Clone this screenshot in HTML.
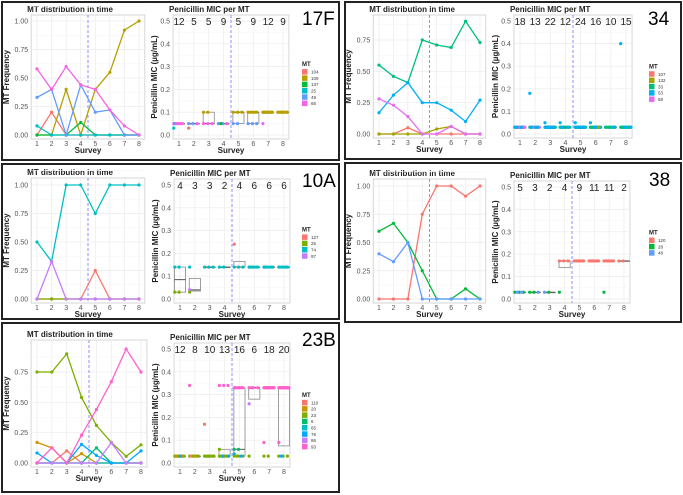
<!DOCTYPE html>
<html><head><meta charset="utf-8">
<style>
html,body{margin:0;padding:0;background:#fff;}
svg{display:block;font-family:"Liberation Sans",sans-serif;}
</style></head>
<body>
<svg id="fig" width="683" height="495" viewBox="0 0 683 495" xmlns="http://www.w3.org/2000/svg"></svg>
<script>
// ===== Data =====
const surveys = [1,2,3,4,5,6,7,8];
// 17F
const mt17F = ["104","109","137","25","49","66"];
const col17F = ["#F8766D","#B79F00","#00BA38","#00BFC4","#619CFF","#F564E3"];
const freq17F = [
  [0,0.2,0,0,0,0,0,0],
  [0,0,0.4,0,0.4,0.55,0.92,1.0],
  [0,0,0,0.11,0,0,0,0],
  [0.08,0,0,0,0,0,0,0],
  [0.33,0.4,0,0.44,0.2,0.22,0,0],
  [0.58,0.4,0.6,0.44,0.4,0.22,0.08,0]
];
const counts17F = [12,5,5,9,5,9,12,9];
// [survey, mic, mtIndex, n]
const pts17F = [[1,0.05,5,5],[1,0.05,4,1],[1,0.03,3,1],[2,0.05,4,2],[2,0.05,5,1],[2,0.03,0,1],
  [3,0.1,1,2],[3,0.05,5,3],[4,0.05,4,2],[4,0.05,5,1],[4,0.05,2,1],[5,0.1,1,3],[5,0.05,4,2],
  [6,0.1,1,5],[6,0.05,4,3],[7,0.1,1,11],[7,0.05,5,1],[8,0.1,1,9]];
// [survey, q1, median, q3]
const box17F = [[1,0.05,0.05,0.05],[2,0.05,0.05,0.05],[3,0.05,0.05,0.1],[4,0.05,0.05,0.05],[5,0.05,0.1,0.1],[6,0.05,0.1,0.1],[7,0.1,0.1,0.1],[8,0.1,0.1,0.1]];
// 34
const mt34 = ["107","132","33","53","58"];
const col34 = ["#F8766D","#A3A500","#00BF7D","#00B0F6","#E76BF3"];
const freq34 = [
  [0,0,0.05,0,0,0,0,0],
  [0,0,0,0,0.04,0.06,0,0],
  [0.55,0.46,0.41,0.75,0.71,0.69,0.9,0.73],
  [0.17,0.31,0.41,0.25,0.25,0.19,0.1,0.27],
  [0.28,0.23,0.14,0,0,0.06,0,0]
];
const counts34 = [18,13,22,12,24,16,10,15];
const pts34 = [[1,0.03,2,10],[1,0.03,4,5],[1,0.03,3,3],[2,0.03,2,6],[2,0.03,4,3],[2,0.18,3,1],[2,0.03,3,3],
  [3,0.03,2,13],[3,0.03,3,8],[3,0.05,3,1],[4,0.03,2,9],[4,0.03,3,2],[4,0.05,3,1],[5,0.03,2,17],[5,0.03,3,5],[5,0.05,3,1],
  [6,0.03,2,11],[6,0.03,3,3],[6,0.05,3,1],[6,0.03,1,1],[7,0.03,2,9],[7,0.03,3,1],[8,0.03,2,11],[8,0.03,3,3],[8,0.4,3,1]];
const box34 = [[1,0.03,0.03,0.03],[2,0.03,0.03,0.03],[3,0.03,0.03,0.03],[4,0.03,0.03,0.03],[5,0.03,0.03,0.03],[6,0.03,0.03,0.03],[7,0.03,0.03,0.03],[8,0.03,0.03,0.03]];
// 10A
const mt10A = ["127","25","74","97"];
const col10A = ["#F8766D","#7CAE00","#00BFC4","#C77CFF"];
const freq10A = [
  [0,0,0,0,0.25,0,0,0],
  [0,0,0,0,0,0,0,0],
  [0.5,0.33,1,1,0.75,1,1,1],
  [0,0.33,0,0,0,0,0,0]
];
const counts10A = [4,3,3,2,4,6,6,6];
const pts10A = [[1,0.14,2,2],[1,0.03,1,2],[2,0.14,2,1],[2,0.04,3,1],[2,0.03,1,1],[3,0.14,2,3],[4,0.14,2,2],
  [5,0.14,2,3],[5,0.24,0,1],[6,0.14,2,6],[7,0.14,2,6],[8,0.14,2,6]];
const box10A = [[1,0.03,0.085,0.14],[2,0.035,0.04,0.09],[3,0.14,0.14,0.14],[4,0.14,0.14,0.14],[5,0.14,0.14,0.165],[6,0.14,0.14,0.14],[7,0.14,0.14,0.14],[8,0.14,0.14,0.14]];
// 38
const mt38 = ["120","28","48"];
const col38 = ["#F8766D","#00BA38","#619CFF"];
const freq38 = [
  [0,0,0,0.75,1,1,0.91,1],
  [0.6,0.67,0.5,0.25,0,0,0.09,0],
  [0.4,0.33,0.5,0,0,0,0,0]
];
const counts38 = [5,3,2,4,9,11,11,2];
const pts38 = [[1,0.03,1,3],[1,0.03,2,2],[2,0.03,1,2],[2,0.03,2,1],[3,0.03,2,1],[3,0.03,1,1],[4,0.17,0,3],[4,0.03,1,1],
  [5,0.17,0,9],[6,0.17,0,11],[7,0.17,0,10],[7,0.03,1,1],[8,0.17,0,2]];
const box38 = [[1,0.03,0.03,0.03],[2,0.03,0.03,0.03],[3,0.03,0.03,0.03],[4,0.14,0.17,0.17],[5,0.17,0.17,0.17],[6,0.17,0.17,0.17],[7,0.17,0.17,0.17],[8,0.17,0.17,0.17]];
// 23B
const mt23B = ["110","20","23","6","65","76","86","93"];
const col23B = ["#F8766D","#CD9600","#7CAE00","#00BE67","#00BFC4","#00A9FF","#C77CFF","#FF61CC"];
const freq23B = [
  [0,0,0.1,0,0,0,0,0],
  [0.17,0.125,0,0.077,0,0,0,0],
  [0.75,0.75,0.9,0.54,0.31,0.17,0.055,0.15],
  [0,0,0,0,0.125,0,0,0],
  [0,0,0,0,0,0,0,0],
  [0.083,0,0,0.154,0.0625,0,0,0.1],
  [0,0,0,0,0,0.167,0,0],
  [0,0.125,0,0.23,0.44,0.67,0.94,0.75]
];
const counts23B = [12,8,10,13,16,6,18,20];
const pts23B = [[1,0.03,2,9],[1,0.03,1,2],[1,0.03,5,1],[2,0.03,2,5],[2,0.03,0,1],[2,0.34,7,1],[2,0.03,1,1],
  [3,0.03,2,9],[3,0.17,0,1],[4,0.03,2,7],[4,0.34,7,3],[4,0.06,2,1],[4,0.03,5,2],
  [5,0.33,7,7],[5,0.03,2,4],[5,0.06,3,2],[5,0.04,4,1],[5,0.03,5,1],[6,0.33,7,4],[6,0.26,6,1],[6,0.03,2,1],
  [7,0.33,7,14],[7,0.09,7,1],[7,0.03,2,2],[8,0.33,7,15],[8,0.09,7,1],[8,0.03,2,3],[8,0.03,5,1]];
const box23B = [[1,0.03,0.03,0.03],[2,0.03,0.03,0.03],[3,0.03,0.03,0.03],[4,0.03,0.03,0.06],[5,0.03,0.06,0.33],[6,0.28,0.33,0.33],[7,0.33,0.33,0.33],[8,0.075,0.33,0.33]];

// ===== Rendering =====
const NS="http://www.w3.org/2000/svg";
const svg=document.getElementById('fig');
function mk(tag,attrs,parent){const e=document.createElementNS(NS,tag);for(const k in attrs)e.setAttribute(k,attrs[k]);(parent||svg).appendChild(e);return e;}
function txt(s,attrs,parent){const e=mk('text',attrs,parent);e.textContent=s;return e;}

function drawPanel(c){
  const g=mk('g',{});
  
  
  const b=mk('rect',{x:c.box[0],y:c.box[1],width:c.box[2]-c.box[0],height:c.box[3]-c.box[1],fill:'#fff',stroke:'#222','stroke-width':2},g);
  
  
  const lab=txt(c.id,{x:c.labelX,y:c.box[1]+23,'font-size':19,fill:'#000'},g);
  
  

  // ---- Left: frequency ----
  const L=c.left;
  const lx=v=>L.x1+(v-1)*(L.x8-L.x1)/7;
  const ly=v=>L.y0+(L.yref-L.y0)*v/L.vref;
  const lg=mk('g',{},g);
  
  
  const lTop=L.top, lBot=ly(0)+4, lL=lx(0.6), lR=lx(8.4);
  mk('rect',{x:lL,y:lTop,width:lR-lL,height:lBot-lTop,fill:'#fff',stroke:'#ccc','stroke-width':0.8},lg);
  const lt=txt('MT distribution in time',{x:lL-4,y:L.top-3,'font-size':8,'font-weight':'bold',fill:'#222'},lg);
  
  
  L.ticks.forEach(t=>{
    mk('line',{x1:lL,x2:lR,y1:ly(t),y2:ly(t),stroke:'#ebebeb','stroke-width':0.7},lg);
    mk('line',{x1:lL,x2:lR,y1:ly(t+0.125),y2:ly(t+0.125),stroke:'#f5f5f5','stroke-width':0.5},lg);
    const tl=txt(t.toFixed(2),{x:lL-3,y:ly(t)+2.5,'font-size':7,'text-anchor':'end',fill:'#555'},lg);
    
    
  });
  surveys.forEach(s=>{
    mk('line',{x1:lx(s),x2:lx(s),y1:lTop,y2:lBot,stroke:'#ebebeb','stroke-width':0.7},lg);
    const tl=txt(String(s),{x:lx(s),y:lBot+7,'font-size':7,'text-anchor':'middle',fill:'#555'},lg);
    
    
  });
  mk('line',{x1:lx(4.5),x2:lx(4.5),y1:lTop,y2:lBot,stroke:'#8f8fff','stroke-width':1,'stroke-dasharray':'3,2'},lg);
  c.freq.forEach((series,i)=>{
    const pts=series.map((v,j)=>lx(surveys[j])+','+ly(v)).join(' ');
    const pl=mk('polyline',{points:pts,fill:'none',stroke:c.cols[i],'stroke-width':1.3},lg);
    
    
    series.forEach((v,j)=>{
      const p=mk('circle',{cx:lx(surveys[j]),cy:ly(v),r:1.6,fill:c.cols[i]},lg);
      
      
    });
  });
  const xt=txt('Survey',{x:(lL+lR)/2,y:lBot+14,'font-size':8,'font-weight':'bold','text-anchor':'middle',fill:'#222'},lg);
  
  
  const yt=txt('MT Frequency',{x:0,y:0,'font-size':8,'font-weight':'bold','text-anchor':'middle',fill:'#222',transform:`translate(${lL-22},${(lTop+lBot)/2}) rotate(-90)`},lg);
  
  

  // ---- Right: MIC ----
  const R=c.right;
  const rx=v=>R.x1+(v-1)*(R.x8-R.x1)/7;
  const ry=v=>R.y0+(R.y5-R.y0)*v/0.5;
  const rg=mk('g',{},g);
  
  
  const rTop=ry(0.5)-6,rBot=ry(0)+4,rL=rx(0.6),rR=rx(8.4);
  mk('rect',{x:rL,y:rTop,width:rR-rL,height:rBot-rTop,fill:'#fff',stroke:'#ccc','stroke-width':0.8},rg);
  const rt=txt('Penicillin MIC per MT',{x:rL-4,y:rTop-3,'font-size':8,'font-weight':'bold',fill:'#222'},rg);
  
  
  [0,0.1,0.2,0.3,0.4,0.5].forEach(t=>{
    mk('line',{x1:rL,x2:rR,y1:ry(t),y2:ry(t),stroke:'#ebebeb','stroke-width':0.7},rg);
    if(t<0.5)mk('line',{x1:rL,x2:rR,y1:ry(t+0.05),y2:ry(t+0.05),stroke:'#f5f5f5','stroke-width':0.5},rg);
    const tl=txt(t.toFixed(1),{x:rL-3,y:ry(t)+2.5,'font-size':7,'text-anchor':'end',fill:'#555'},rg);
    
    
  });
  surveys.forEach((s,j)=>{
    mk('line',{x1:rx(s),x2:rx(s),y1:rTop,y2:rBot,stroke:'#ebebeb','stroke-width':0.7},rg);
    const tl=txt(String(s),{x:rx(s),y:rBot+7,'font-size':7,'text-anchor':'middle',fill:'#555'},rg);
    
    
    const cl=txt(String(c.counts[j]),{x:rx(s),y:ry(0.5)+4,'font-size':10,'text-anchor':'middle',fill:'#222'},rg);
    
    
  });
  c.boxes.forEach(bx=>{
    const w=(R.x8-R.x1)/7*0.75;
    const x0=rx(bx[0])-w/2;
    const r=mk('rect',{x:x0,y:ry(bx[3]),width:w,height:Math.max(0.5,ry(bx[1])-ry(bx[3])),fill:'none',stroke:'#888','stroke-width':0.8},rg);
    
    
    mk('line',{x1:x0,x2:x0+w,y1:ry(bx[2]),y2:ry(bx[2]),stroke:'#555','stroke-width':1},rg);
  });
  mk('line',{x1:rx(4.5),x2:rx(4.5),y1:rTop,y2:rBot,stroke:'#8f8fff','stroke-width':1,'stroke-dasharray':'3,2'},rg);
  const used={};
  c.pts.forEach(p=>{
    const key=p[0]+'_'+p[1];
    for(let k=0;k<p[3];k++){
      const idx=used[key]||0; used[key]=idx+1;
      const off=((idx*0.29)%0.7)-0.35;
      const d=mk('circle',{cx:rx(p[0]+off),cy:ry(p[1]),r:1.6,fill:c.cols[p[2]]},rg);
      
      
    }
  });
  const xt2=txt('Survey',{x:(rL+rR)/2,y:rBot+14,'font-size':8,'font-weight':'bold','text-anchor':'middle',fill:'#222'},rg);
  
  
  const yt2=txt('Penicillin MIC (\u00b5g/mL)',{x:0,y:0,'font-size':8,'font-weight':'bold','text-anchor':'middle',fill:'#222',transform:`translate(${rL-16},${(rTop+rBot)/2}) rotate(-90)`},rg);
  
  

  // ---- Legend ----
  const leg=mk('g',{},g);
  
  
  const ly0=c.legY-((c.mts.length*6.3)/2);
  txt('MT',{x:c.legX,y:ly0,'font-size':6,'font-weight':'bold',fill:'#222'},leg);
  c.mts.forEach((m,i)=>{
    const e=mk('g',{},leg);
    
    
    mk('rect',{x:c.legX,y:ly0+3+i*6.3,width:5.5,height:5.5,fill:c.cols[i]},e);
    txt(m,{x:c.legX+9,y:ly0+7.5+i*6.3,'font-size':4.5,fill:'#333'},e);
  });
}

drawPanel({id:'17F',box:[2,2,339,160],labelX:302,mts:mt17F,cols:col17F,freq:freq17F,counts:counts17F,pts:pts17F,boxes:box17F,
  left:{x1:37,x8:139,y0:135,yref:21,vref:1,top:15,ticks:[0,0.25,0.5,0.75,1]},
  right:{x1:179,x8:283,y0:135,y5:21},legX:302,legY:85});
drawPanel({id:'34',box:[345,2,681,159],labelX:648,mts:mt34,cols:col34,freq:freq34,counts:counts34,pts:pts34,boxes:box34,
  left:{x1:379,x8:480,y0:134,yref:40,vref:0.75,top:15,ticks:[0,0.25,0.5,0.75]},
  right:{x1:520,x8:626,y0:134,y5:21},legX:649,legY:84});
drawPanel({id:'10A',box:[2,164,339,319],labelX:302,mts:mt10A,cols:col10A,freq:freq10A,counts:counts10A,pts:pts10A,boxes:box10A,
  left:{x1:37,x8:139,y0:299,yref:185,vref:1,top:178,ticks:[0,0.25,0.5,0.75,1]},
  right:{x1:180,x8:284,y0:299,y5:185},legX:302,legY:244});
drawPanel({id:'38',box:[345,163,681,322],labelX:649,mts:mt38,cols:col38,freq:freq38,counts:counts38,pts:pts38,boxes:box38,
  left:{x1:379,x8:480,y0:299,yref:186,vref:1,top:179,ticks:[0,0.25,0.5,0.75,1]},
  right:{x1:520,x8:624,y0:299,y5:187},legX:649,legY:244});
drawPanel({id:'23B',box:[2,323,339,492],labelX:302,mts:mt23B,cols:col23B,freq:freq23B,counts:counts23B,pts:pts23B,boxes:box23B,
  left:{x1:37,x8:141,y0:463,yref:372,vref:0.75,top:340,ticks:[0,0.25,0.5,0.75]},
  right:{x1:180,x8:284,y0:463,y5:349},legX:302,legY:422});
</script>
</body></html>
